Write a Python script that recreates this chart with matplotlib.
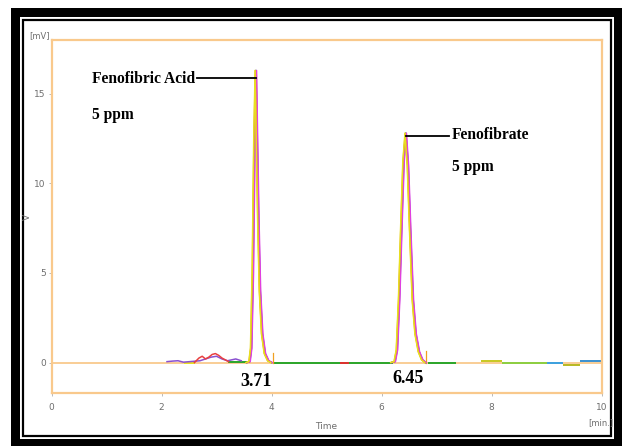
import matplotlib
matplotlib.use("Agg")
import matplotlib.pyplot as plt
import numpy as np
from matplotlib.patches import Rectangle

# ---------------- data ----------------
# main chromatogram peaks (time in min, signal in mV)
t_acid = [3.55, 3.60, 3.63, 3.66, 3.69, 3.715, 3.73, 3.76, 3.79, 3.83, 3.88, 3.94, 4.00]
v_acid = [0.0, 0.05, 0.8, 5.0, 12.5, 16.3, 13.5, 8.0, 4.0, 1.6, 0.5, 0.1, 0.0]
t_fen = [6.18, 6.24, 6.28, 6.32, 6.36, 6.40, 6.44, 6.48, 6.52, 6.57, 6.62, 6.68, 6.74, 6.80]
v_fen = [0.0, 0.05, 0.7, 3.5, 7.5, 11.2, 12.8, 11.0, 7.5, 3.5, 1.6, 0.6, 0.15, 0.0]

# overlaid injections: colour and retention-time offset (min)
run_colors = ["#3a50c8", "#2aa52a", "#8a50d0", "#e040e0", "#f0a020", "#e8e020"]
run_shift = [0.004, -0.004, 0.008, 0.014, -0.010, -0.014]

# baseline noise region (2-3.5 min)
t_noise_red = [2.60, 2.68, 2.74, 2.80, 2.86, 2.92, 2.98, 3.04, 3.10, 3.16, 3.22]
v_noise_red = [0.0, 0.25, 0.35, 0.2, 0.3, 0.45, 0.5, 0.4, 0.25, 0.15, 0.05]
t_noise_pur = [2.10, 2.20, 2.30, 2.40, 2.70, 2.80, 2.90, 3.00, 3.10, 3.20, 3.35, 3.45]
v_noise_pur = [0.05, 0.08, 0.1, 0.02, 0.1, 0.2, 0.3, 0.35, 0.2, 0.1, 0.2, 0.1]

# small baseline spikes after each peak
spike_t = [4.02, 6.80]
spike_v = [0.55, 0.65]

# coloured baseline segments: start, end, level, colour
seg_start = [2.40, 3.20, 4.05, 5.25, 6.85, 7.80, 8.20, 9.00, 9.30, 9.60]
seg_end = [2.60, 3.55, 6.20, 5.40, 7.35, 8.20, 9.00, 9.30, 9.60, 10.0]
seg_level = [0.0, 0.05, -0.02, -0.03, -0.02, 0.10, -0.02, -0.05, -0.12, 0.08]
seg_color = ["#e8e020", "#2aa52a", "#2aa52a", "#e03030", "#2aa52a", "#c8c820",
             "#8ccf40", "#3aa0e0", "#b8b820", "#3a90d0"]

x_ticks = [0, 2, 4, 6, 8, 10]
y_ticks = [0, 5, 10, 15]

peak_labels = ["3.71", "6.45"]
compound_names = ["Fenofibric Acid", "Fenofibrate"]
conc_label = "5 ppm"

# ---------------- figure ----------------
W, H = 622, 446
fig = plt.figure(figsize=(W / 100, H / 100), dpi=100)
fig.patch.set_facecolor("white")


def px_rect(x0, y0, x1, y1, **kw):
    fig.patches.append(Rectangle((x0 / W, 1 - y1 / H), (x1 - x0) / W, (y1 - y0) / H,
                                 transform=fig.transFigure, figure=fig, **kw))


# black double frame
px_rect(11, 8, 622, 446, facecolor="black", edgecolor="none", zorder=-10)
px_rect(20, 17, 614, 439, facecolor="white", edgecolor="none", zorder=-9)
px_rect(23, 20, 611, 436, facecolor="white", edgecolor="black", linewidth=1.6, zorder=-8)

ax = fig.add_axes([51.5 / W, 1 - 393 / H, 550 / W, 353 / H])
ax.set_zorder(5)
ax.set_facecolor("white")
ax.set_xlim(0, 10)
ax.set_ylim(-1.7, 18.0)

orange = "#f9c98c"
for s in ax.spines.values():
    s.set_color(orange)
    s.set_linewidth(1.6)

ax.axhline(0, color=orange, lw=1.3, zorder=1)

# baseline segments
for a, b, lv, c in zip(seg_start, seg_end, seg_level, seg_color):
    ax.plot([a, b], [lv, lv], color=c, lw=1.4, zorder=2, solid_capstyle="butt")

ax.plot(t_noise_pur, v_noise_pur, color="#8a50d0", lw=1.1, zorder=2)
ax.plot(t_noise_red, v_noise_red, color="#e84040", lw=1.1, zorder=2)

for st, sv in zip(spike_t, spike_v):
    ax.plot([st, st], [0, sv], color="#f0a020", lw=0.9, zorder=2)

# peaks from each injection
ta = np.array(t_acid)
tf = np.array(t_fen)
for c, sh in zip(run_colors, run_shift):
    ax.plot(ta + sh, v_acid, color=c, lw=1.0, zorder=3)
    ax.plot(tf + sh, v_fen, color=c, lw=1.0, zorder=3)

# annotations
txt_kw = dict(family=["Liberation Serif", "DejaVu Serif"], fontweight="bold",
              fontsize=11.2, color="black")
ax.plot([2.645, 3.715], [15.87, 15.87], color="black", lw=1.3, zorder=4)
ax.text(0.74, 15.85, compound_names[0], ha="left", va="center", **txt_kw)
ax.text(0.74, 13.8, conc_label, ha="left", va="center", **txt_kw)

ax.plot([6.445, 7.22], [12.63, 12.63], color="black", lw=1.3, zorder=4)
ax.text(7.27, 12.7, compound_names[1], ha="left", va="center", **txt_kw)
ax.text(7.29, 10.9, conc_label, ha="left", va="center", **txt_kw)

lab_kw = dict(txt_kw)
lab_kw["fontsize"] = 13
ax.text(3.727, -1.05, peak_labels[0], ha="center", va="center", **lab_kw)
ax.text(6.48, -0.88, peak_labels[1], ha="center", va="center", **lab_kw)

# ticks
gray = "#6e6e6e"
ax.set_xticks(x_ticks)
ax.set_yticks(y_ticks)
ax.tick_params(axis="both", colors="#b0b0b0", labelcolor=gray, labelsize=6.5,
               length=2.5, width=0.6, pad=1.5)
ax.tick_params(axis="x", pad=5)

ax.set_xlabel("Time", fontsize=6.5, color=gray, labelpad=7)
ax.set_ylabel("V", fontsize=6.5, color=gray)
ax.yaxis.set_label_coords(-0.036, 0.5)
fig.text(40 / W, 1 - 36 / H, "[mV]", fontsize=6, color=gray, ha="center", va="center")
fig.text(601 / W, 1 - 423 / H, "[min.]", fontsize=6, color=gray, ha="center", va="center")

fig.savefig("out.png", dpi=100)
